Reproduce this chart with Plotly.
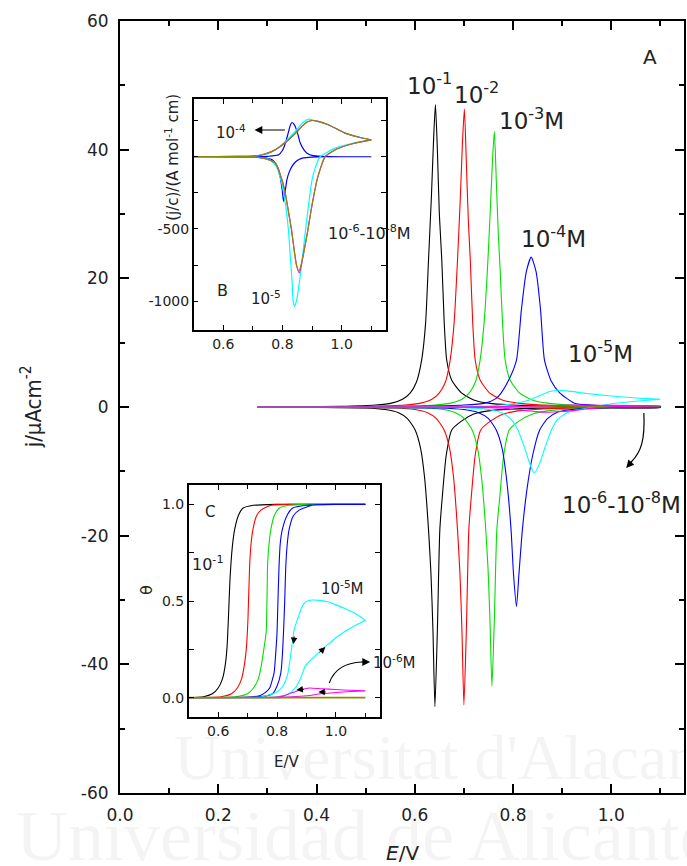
import plotly.graph_objects as go

# ---------------- main panel A: j / uA cm^-2 vs E / V ----------------
# 1e-1 M (black)
A1_E_fwd = [0.28,0.45,0.52,0.553,0.575,0.591,0.603,0.614,0.622,0.628,0.634,0.638,0.642,0.646,0.650,0.655,0.660,0.665,0.675,0.695,0.72,0.75,0.80,0.90,1.10]
A1_j_fwd = [0,0.1,0.3,0.6,1.2,2.2,3.8,7.3,13,22.9,33,41,47,40,30,22.9,13,7.3,4.2,2.2,1.1,0.6,0.3,0.1,0.05]
A1_E_rev = [1.10,0.90,0.80,0.75,0.72,0.695,0.675,0.664,0.656,0.651,0.646,0.641,0.637,0.633,0.628,0.620,0.612,0.601,0.585,0.567,0.54,0.50,0.28]
A1_j_rev = [-0.05,-0.1,-0.3,-0.6,-1.1,-2.2,-3.6,-7.5,-14,-19.1,-34.7,-46.6,-34.7,-26,-19.1,-11,-6.5,-3.6,-1.8,-0.9,-0.4,-0.15,0]
# 1e-2 M (red)
A2_E_fwd = [0.28,0.50,0.58,0.612,0.635,0.650,0.662,0.672,0.680,0.687,0.693,0.697,0.701,0.705,0.709,0.713,0.718,0.723,0.733,0.752,0.778,0.81,0.86,0.95,1.10]
A2_j_fwd = [0,0.1,0.3,0.6,1.2,2.2,3.8,7.3,13,22.9,33,41,46.3,38,29,22.9,13,7.3,4.2,2.2,1.1,0.6,0.3,0.1,0.05]
A2_E_rev = [1.10,0.96,0.86,0.81,0.78,0.754,0.734,0.723,0.715,0.710,0.705,0.700,0.696,0.692,0.687,0.679,0.671,0.660,0.644,0.626,0.60,0.56,0.28]
A2_j_rev = [-0.05,-0.1,-0.3,-0.6,-1.1,-2.2,-3.6,-7.5,-14,-19.1,-34.7,-46.3,-34.7,-26,-19.1,-11,-6.5,-3.6,-1.8,-0.9,-0.4,-0.15,0]
# 1e-3 M (green)
A3_E_fwd = [0.28,0.56,0.64,0.673,0.696,0.711,0.723,0.733,0.741,0.748,0.754,0.758,0.762,0.766,0.770,0.774,0.779,0.784,0.794,0.813,0.839,0.87,0.92,1.0,1.10]
A3_j_fwd = [0,0.1,0.3,0.6,1.2,2.2,3.8,7.3,13,21.5,31,38,42.8,35,27,21,12.5,7.3,4.2,2.2,1.1,0.6,0.3,0.1,0.05]
A3_E_rev = [1.10,1.0,0.92,0.87,0.84,0.812,0.792,0.781,0.773,0.767,0.762,0.757,0.753,0.749,0.744,0.736,0.728,0.717,0.701,0.683,0.66,0.62,0.28]
A3_j_rev = [-0.05,-0.1,-0.3,-0.6,-1.1,-2.2,-3.6,-7.5,-14,-19.1,-33,-43.4,-33,-25,-18.5,-11,-6.5,-3.6,-1.8,-0.9,-0.4,-0.15,0]
# 1e-4 M (blue)
A4_E_fwd = [0.28,0.60,0.70,0.743,0.765,0.776,0.792,0.807,0.817,0.827,0.837,0.847,0.856,0.864,0.878,0.895,0.925,0.96,1.02,1.10]
A4_j_fwd = [0,0.1,0.3,0.6,1.3,2.2,4.3,7.3,15.1,21,23.3,21,15.1,7.3,4.0,2.2,0.6,0.3,0.1,0.05]
A4_E_rev = [1.10,1.00,0.93,0.89,0.87,0.854,0.84,0.828,0.819,0.812,0.807,0.801,0.796,0.788,0.778,0.766,0.75,0.73,0.70,0.65,0.28]
A4_j_rev = [-0.05,-0.1,-0.3,-0.8,-1.8,-3.6,-7.5,-13,-19.1,-26,-31.0,-26,-19.1,-12,-6.5,-3.6,-1.8,-0.9,-0.4,-0.15,0]
# 1e-5 M (cyan)
A5_E_fwd = [0.28,0.70,0.76,0.80,0.83,0.855,0.875,0.89,0.91,0.95,1.00,1.05,1.10]
A5_j_fwd = [0,0.05,0.2,0.5,1.0,1.8,2.4,2.6,2.5,2.1,1.7,1.4,1.2]
A5_E_rev = [1.10,1.05,1.00,0.97,0.94,0.91,0.89,0.878,0.865,0.854,0.843,0.834,0.822,0.81,0.797,0.78,0.75,0.70,0.28]
A5_j_rev = [1.2,0.9,0.5,0.1,-0.3,-0.9,-2.0,-3.6,-6.3,-8.8,-10.3,-8.8,-6.0,-3.6,-2.0,-1.0,-0.4,-0.1,0]
# 1e-6 M (magenta)
A6_E_fwd = [0.28,0.75,0.85,0.92,1.00,1.10]
A6_j_fwd = [0,0.02,0.15,0.3,0.25,0.2]
A6_E_rev = [1.10,1.00,0.95,0.90,0.86,0.82,0.78,0.70,0.28]
A6_j_rev = [0.2,0.05,-0.3,-0.7,-0.8,-0.5,-0.2,-0.05,0]
# 1e-7 - 1e-8 M (olive)
A7_E_fwd = [0.28,0.70,0.90,1.10]
A7_j_fwd = [0,0,0.05,0.05]
A7_E_rev = [1.10,0.90,0.70,0.28]
A7_j_rev = [0.05,-0.05,0,0]

# ---------------- inset B: (j/c) vs E ----------------
B4_E_fwd = [0.50,0.70,0.75,0.787,0.800,0.810,0.820,0.827,0.832,0.838,0.843,0.852,0.860,0.872,0.883,0.90,0.93,1.0,1.10]
B4_j_fwd = [0,0,3,14,45,95,170,222,237,228,210,155,95,50,25,10,3,0,0]
B4_E_rev = [1.10,0.95,0.90,0.87,0.854,0.842,0.832,0.822,0.815,0.809,0.804,0.801,0.799,0.793,0.787,0.776,0.765,0.74,0.72,0.65,0.50]
B4_j_rev = [0,0,-2,-8,-21,-40,-67,-110,-159,-240,-310,-270,-228,-150,-90,-45,-21,-7,-3,0,0]
B5_E_fwd = [0.50,0.65,0.70,0.74,0.765,0.79,0.821,0.845,0.866,0.888,0.91,0.955,1.011,1.06,1.10]
B5_j_fwd = [0,2,5,15,35,70,128,180,230,261,250,220,165,135,117]
B5_E_rev = [1.10,1.04,0.978,0.95,0.927,0.912,0.900,0.889,0.878,0.866,0.855,0.847,0.841,0.836,0.832,0.826,0.82,0.81,0.798,0.78,0.754,0.70,0.60,0.50]
B5_j_rev = [117,95,60,30,0,-70,-159,-320,-505,-720,-900,-1000,-1036,-1000,-852,-680,-505,-330,-190,-70,-15,-3,0,0]
B6_E_fwd = [0.50,0.65,0.70,0.731,0.765,0.795,0.821,0.845,0.866,0.885,0.900,0.92,0.955,1.011,1.06,1.10]
B6_j_fwd = [0,2,5,14,37,75,118,165,210,242,251,245,222,164,135,117]
B6_E_rev = [1.10,1.04,0.985,0.944,0.930,0.917,0.897,0.884,0.867,0.857,0.847,0.838,0.830,0.821,0.81,0.798,0.776,0.75,0.731,0.70,0.60,0.50]
B6_j_rev = [117,92,55,0,-70,-159,-367,-528,-713,-805,-745,-625,-500,-390,-260,-159,-44,-18,-9,-3,0,0]
B7_E_fwd = [0.50,0.65,0.70,0.731,0.765,0.795,0.821,0.845,0.866,0.885,0.900,0.92,0.955,1.011,1.06,1.10]
B7_j_fwd = [0,2,5,14,37,75,118,165,210,242,251,245,222,164,135,117]
B7_E_rev = [1.10,1.04,0.985,0.944,0.930,0.917,0.897,0.884,0.867,0.855,0.846,0.838,0.830,0.821,0.81,0.798,0.776,0.75,0.731,0.70,0.60,0.50]
B7_j_rev = [117,92,55,0,-70,-159,-367,-528,-713,-794,-740,-621,-500,-390,-260,-159,-44,-18,-9,-3,0,0]

# ---------------- inset C: coverage theta vs E ----------------
C1_E = [0.50,0.55,0.58,0.60,0.615,0.625,0.630,0.635,0.640,0.648,0.656,0.668,0.684,0.72,0.80,1.10]
C1_t = [0,0.005,0.02,0.05,0.10,0.18,0.26,0.42,0.61,0.78,0.87,0.94,0.98,0.995,1.0,1.0]
C2_E = [0.50,0.61,0.645,0.665,0.680,0.690,0.696,0.701,0.707,0.712,0.718,0.73,0.745,0.78,0.86,1.10]
C2_t = [0,0.005,0.02,0.05,0.10,0.18,0.26,0.40,0.69,0.80,0.87,0.94,0.97,0.995,1.0,1.0]
C3_E = [0.50,0.66,0.70,0.72,0.737,0.748,0.755,0.763,0.768,0.773,0.779,0.79,0.807,0.84,0.92,1.10]
C3_t = [0,0.005,0.02,0.05,0.10,0.18,0.25,0.34,0.69,0.80,0.87,0.94,0.98,0.995,1.0,1.0]
C4_E_fwd = [0.50,0.72,0.76,0.785,0.80,0.813,0.818,0.822,0.826,0.830,0.835,0.841,0.855,0.875,0.92,1.0,1.10]
C4_t_fwd = [0,0.003,0.008,0.02,0.06,0.13,0.22,0.34,0.50,0.69,0.80,0.87,0.94,0.97,0.995,1.0,1.0]
C4_E_rev = [1.10,1.0,0.90,0.852,0.833,0.818,0.811,0.807,0.803,0.800,0.795,0.79,0.775,0.763,0.74,0.70,0.50]
C4_t_rev = [1.0,1.0,0.995,0.98,0.94,0.87,0.80,0.69,0.50,0.34,0.22,0.13,0.05,0.03,0.01,0.003,0]
C5_E_fwd = [0.50,0.75,0.80,0.84,0.864,0.88,0.897,0.925,0.953,0.98,1.009,1.05,1.10]
C5_t_fwd = [0,0.0,0.005,0.02,0.055,0.10,0.167,0.21,0.25,0.285,0.32,0.36,0.40]
C5_E_rev = [1.10,1.06,1.032,1.0,0.975,0.945,0.919,0.900,0.891,0.882,0.875,0.866,0.858,0.847,0.836,0.818,0.80,0.785,0.75,0.70,0.50]
C5_t_rev = [0.40,0.44,0.46,0.48,0.495,0.503,0.505,0.498,0.485,0.46,0.43,0.39,0.35,0.23,0.12,0.055,0.03,0.02,0.005,0,0]
C6_E_fwd = [0.50,0.80,0.85,0.90,0.95,1.0,1.05,1.10]
C6_t_fwd = [0,0,0.004,0.01,0.02,0.027,0.032,0.035]
C6_E_rev = [1.10,1.05,1.0,0.95,0.91,0.88,0.85,0.82,0.80,0.70,0.50]
C6_t_rev = [0.035,0.038,0.042,0.046,0.05,0.04,0.025,0.008,0.003,0,0]
C7_E = [0.50,1.10]
C7_t = [0,0]

# tick labels (hyphen minus as in the original)
Y_MAIN_TICKS = [-60, -40, -20, 0, 20, 40, 60]
Y_MAIN_TEXT = ["-60", "-40", "-20", "0", "20", "40", "60"]

COL = {"k": "#000000", "r": "#ff0000", "g": "#00e000", "b": "#0000ff",
       "c": "#00ffff", "m": "#ff00ff", "o": "#8c8c00"}

fig = go.Figure()

def add(x, y, color, xa="x", ya="y", w=1.1):
    fig.add_trace(go.Scatter(x=x, y=y, mode="lines", xaxis=xa, yaxis=ya,
                             line=dict(color=color, width=w, shape="spline", smoothing=0.6),
                             hoverinfo="skip", showlegend=False))

main = [(A1_E_fwd, A1_j_fwd, A1_E_rev, A1_j_rev, "k"),
        (A2_E_fwd, A2_j_fwd, A2_E_rev, A2_j_rev, "r"),
        (A3_E_fwd, A3_j_fwd, A3_E_rev, A3_j_rev, "g"),
        (A4_E_fwd, A4_j_fwd, A4_E_rev, A4_j_rev, "b"),
        (A5_E_fwd, A5_j_fwd, A5_E_rev, A5_j_rev, "c"),
        (A7_E_fwd, A7_j_fwd, A7_E_rev, A7_j_rev, "o"),
        (A6_E_fwd, A6_j_fwd, A6_E_rev, A6_j_rev, "m")]
for ef, jf, er, jr, c in main:
    add(ef + er, jf + jr, COL[c])

insetB = [(B4_E_fwd, B4_j_fwd, B4_E_rev, B4_j_rev, "b"),
          (B5_E_fwd, B5_j_fwd, B5_E_rev, B5_j_rev, "c"),
          (B6_E_fwd, B6_j_fwd, B6_E_rev, B6_j_rev, "m"),
          (B7_E_fwd, B7_j_fwd, B7_E_rev, B7_j_rev, "o")]
for ef, jf, er, jr, c in insetB:
    add(ef + er, jf + jr, COL[c], "x2", "y2", 1.2)

add(C1_E, C1_t, COL["k"], "x3", "y3")
add(C2_E, C2_t, COL["r"], "x3", "y3")
add(C3_E, C3_t, COL["g"], "x3", "y3")
add(C4_E_fwd + C4_E_rev, C4_t_fwd + C4_t_rev, COL["b"], "x3", "y3")
add(C5_E_fwd + C5_E_rev, C5_t_fwd + C5_t_rev, COL["c"], "x3", "y3")
add(C6_E_fwd + C6_E_rev, C6_t_fwd + C6_t_rev, COL["m"], "x3", "y3")
add(C7_E, C7_t, COL["o"], "x3", "y3", 1.6)

# ---------------- layout ----------------
W, H = 687, 866
L, R, T, B = 120, 686, 21, 793
def PX(x): return (x - L) / (R - L)
def PY(y): return (B - y) / (B - T)

FONT = "DejaVu Sans"
TXT = "#222222"

def axis_common(**kw):
    d = dict(showline=True, linecolor="black", mirror="ticks", ticks="inside",
             showgrid=False, zeroline=False, tickcolor="black",
             tickfont=dict(family=FONT, color=TXT))
    d.update(kw)
    return d

layout_axes = dict(
    xaxis=axis_common(range=[0, 1.148], dtick=0.2, tick0=0, tickformat=".1f", linewidth=2,
                      ticklen=9, tickwidth=2, tickfont=dict(family=FONT, size=17, color=TXT),
                      ticklabelstandoff=6,
                      minor=dict(dtick=0.1, ticks="inside", ticklen=5, tickwidth=1.5, tickcolor="black"),
                      domain=[0, 1], anchor="y"),
    yaxis=axis_common(range=[-60, 60], tickmode="array", tickvals=Y_MAIN_TICKS, ticktext=Y_MAIN_TEXT,
                      linewidth=2, ticklen=9, tickwidth=2,
                      tickfont=dict(family=FONT, size=17, color=TXT), ticklabelstandoff=6,
                      minor=dict(dtick=10, ticks="inside", ticklen=5, tickwidth=1.5, tickcolor="black"),
                      domain=[0, 1], anchor="x"),
    xaxis2=axis_common(range=[0.5, 1.15], dtick=0.2, tick0=0.6, tickformat=".1f", linewidth=1.5,
                       ticklen=5, tickwidth=1.2, tickfont=dict(family=FONT, size=14, color=TXT),
                       minor=dict(dtick=0.1, ticks="inside", ticklen=4, tickwidth=1, tickcolor="black"),
                       domain=[PX(194), PX(387)], anchor="y2"),
    yaxis2=axis_common(range=[-1200, 400], tickmode="array",
                       tickvals=[-1000, -750, -500, -250, 0, 250],
                       ticktext=["-1000", "", "-500", "", "", ""], linewidth=1.5,
                       ticklen=5, tickwidth=1.2, tickfont=dict(family=FONT, size=14, color=TXT),
                       domain=[PY(330), PY(99)], anchor="x2"),
    xaxis3=axis_common(range=[0.5, 1.15], dtick=0.2, tick0=0.6, tickformat=".1f", linewidth=1.5,
                       ticklen=5, tickwidth=1.2, tickfont=dict(family=FONT, size=14, color=TXT),
                       minor=dict(dtick=0.1, ticks="inside", ticklen=4, tickwidth=1, tickcolor="black"),
                       domain=[PX(189), PX(381)], anchor="y3"),
    yaxis3=axis_common(range=[-0.1, 1.1], tickmode="array", tickvals=[0, 0.25, 0.5, 0.75, 1.0],
                       ticktext=["0.0", "", "0.5", "", "1.0"], linewidth=1.5,
                       ticklen=5, tickwidth=1.2, tickfont=dict(family=FONT, size=14, color=TXT),
                       domain=[PY(717), PY(485)], anchor="x3"),
)

ann = []
def text(x, y, s, size=23, angle=0, family=FONT, color=TXT):
    ann.append(dict(x=PX(x), y=PY(y), xref="paper", yref="paper", text=s, showarrow=False,
                    textangle=angle, font=dict(family=family, size=size, color=color),
                    xanchor="center", yanchor="middle"))

def head(x, y, ax, ay, w=1.2):
    ann.append(dict(x=PX(x), y=PY(y), xref="paper", yref="paper", text="", showarrow=True,
                    ax=ax, ay=ay, arrowhead=2, arrowsize=1.3, arrowwidth=w, arrowcolor="black"))

# watermark
text(447, 757, "Universitat d'Alacant", size=64, family="Liberation Serif", color="rgba(0,0,0,0.045)")
text(365, 836, "Universidad de Alicante", size=72, family="Liberation Serif", color="rgba(0,0,0,0.045)")

# main labels
text(431, 84, "10<sup>-1</sup>")
text(478, 93, "10<sup>-2</sup>")
text(533, 119, "10<sup>-3</sup>M")
text(555, 237, "10<sup>-4</sup>M")
text(602, 352, "10<sup>-5</sup>M")
text(623, 503, "10<sup>-6</sup>-10<sup>-8</sup>M")
text(652, 57, "A", size=20)
text(403, 853, "<i>E</i>/V", size=20)
text(31, 407, "j/μAcm<sup>-2</sup>", size=22, angle=-90,
     family="DejaVu Sans Condensed, Liberation Sans Narrow, DejaVu Sans")
head(628, 468, 7, -8)

# inset B labels
text(172, 157, "(j/c)/(A mol<sup>-1</sup> cm)", size=15, angle=-90)
text(231, 132, "10<sup>-4</sup>", size=15)
head(255, 130, 32, 0)
text(370, 233, "10<sup>-6</sup>-10<sup>-8</sup>M", size=16)
text(223, 290, "B", size=16)
text(267, 298, "10<sup>-5</sup>", size=15)

# inset C labels
text(210, 512, "C", size=15)
text(208, 563, "10<sup>-1</sup>", size=16)
text(343, 588, "10<sup>-5</sup>M", size=15)
text(395, 662, "10<sup>-6</sup>M", size=15)
text(288, 762, "E/V", size=15)
text(146, 590, "θ", size=16, angle=-90)
head(371, 662, -10, 0)
head(294, 644, 1, -9, 1)
head(326, 647, -7, 7, 1)
head(297, 690, 9, -1, 1)
head(319, 692, 9, 0, 1)

shapes = [
    dict(type="path", xref="paper", yref="paper", line=dict(color="black", width=1.2),
         path=f"M {PX(645.7)},{PY(413)} C {PX(647)},{PY(440)} {PX(643)},{PY(452)} {PX(633)},{PY(462)}"),
    dict(type="path", xref="paper", yref="paper", line=dict(color="black", width=1.1),
         path=f"M {PX(330)},{PY(683)} Q {PX(337)},{PY(663)} {PX(363)},{PY(662)}"),
]

fig.update_layout(width=W, height=H, margin=dict(l=L, r=W - R, t=T, b=H - B),
                  paper_bgcolor="white", plot_bgcolor="white", showlegend=False,
                  annotations=ann, shapes=shapes, **layout_axes)

fig.write_html("out.html", config={"displayModeBar": False},
               post_script="document.body.style.margin='0';document.body.style.overflow='hidden';")
